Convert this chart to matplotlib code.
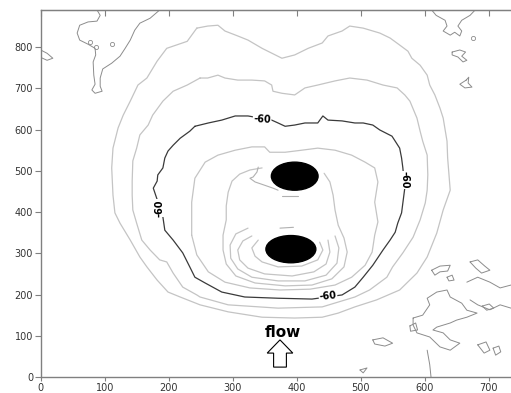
import matplotlib
matplotlib.use("Agg")
import matplotlib.pyplot as plt
from matplotlib.patches import Ellipse, FancyArrow

plt.rcParams['font.family'] = ['DejaVu Sans']

# ---------------- data (data units) ----------------
x_ticks = [0, 100, 200, 300, 400, 500, 600, 700]
y_ticks = [0, 100, 200, 300, 400, 500, 600, 700, 800]

# outermost contour
contour_a_x = [244, 229, 197, 182, 166, 152, 140, 129, 121, 113, 111, 113, 116, 124, 140, 155, 166, 182, 199, 218,
               249, 293, 346, 397, 440, 465, 491, 525, 561, 588, 604, 619, 629, 640, 636, 635, 629, 624, 616, 608,
               604, 593, 580, 574, 561, 546, 530, 504, 483, 471, 449, 440, 418, 397, 377, 346, 324, 308, 288, 277, 261]
contour_a_y = [846, 814, 797, 766, 725, 708, 669, 635, 604, 555, 507, 441, 398, 373, 332, 291, 267, 235, 206, 194,
               175, 158, 145, 143, 145, 155, 170, 187, 211, 252, 291, 349, 405, 453, 531, 572, 628, 652, 684, 708,
               732, 756, 773, 790, 805, 822, 834, 846, 851, 839, 827, 810, 797, 781, 773, 797, 817, 827, 839, 853, 851]
# second contour
contour_b_x = [249, 229, 207, 191, 183, 175, 168, 155, 150, 144, 143, 143, 144, 150, 158, 171, 186, 197, 207, 222,
               244, 249, 293, 371, 440, 491, 514, 541, 550, 566, 582, 593, 601, 604, 605, 604, 597, 593, 588, 577,
               569, 557, 535, 510, 483, 460, 433, 413, 397, 377, 363, 361, 350, 330, 308, 288, 277, 261]
contour_b_y = [725, 708, 693, 669, 652, 635, 611, 587, 555, 524, 475, 441, 405, 373, 332, 308, 284, 279, 252, 218,
               199, 194, 175, 167, 170, 194, 211, 242, 267, 301, 339, 381, 422, 453, 490, 538, 572, 596, 628, 669,
               684, 701, 708, 720, 725, 718, 708, 701, 684, 688, 693, 708, 718, 720, 720, 725, 732, 725]
# labelled -60 contour
contour_60_x = [241, 262, 283, 304, 324, 361, 371, 382, 397, 413, 433, 441, 449, 471, 491, 504, 519, 530, 549, 554,
                561, 564, 566, 569, 566, 564, 558, 554, 546, 535, 519, 504, 491, 471, 424, 371, 319, 283, 257, 241,
                233, 222, 207, 194, 191, 186, 176, 182, 183, 191, 194, 199, 207, 218, 233]
contour_60_y = [608, 616, 623, 633, 633, 623, 616, 608, 611, 616, 616, 633, 623, 621, 616, 616, 611, 599, 584, 572,
                555, 531, 507, 458, 422, 398, 373, 351, 332, 308, 271, 242, 218, 199, 189, 191, 194, 206, 228, 242,
                267, 301, 332, 356, 388, 412, 458, 475, 490, 507, 531, 548, 562, 579, 596]
# contour just inside -60
contour_d_x = [236, 236, 241, 257, 277, 304, 330, 350, 358, 382, 408, 433, 460, 486, 507, 522, 527, 522, 527, 522,
               518, 507, 486, 460, 421, 374, 327, 288, 262, 244]
contour_d_y = [344, 424, 482, 521, 538, 550, 558, 558, 545, 545, 550, 555, 550, 538, 521, 507, 473, 424, 376, 344,
               303, 271, 242, 223, 213, 211, 216, 230, 255, 296]
# U-shaped contour around both cylinders
contour_e_x = [346, 327, 311, 299, 293, 290, 290, 285, 285, 290, 305, 335, 382, 424, 455, 474, 479, 474, 465, 460, 457, 452, 443]
contour_e_y = [507, 502, 492, 475, 448, 415, 381, 344, 308, 274, 245, 228, 221, 223, 238, 267, 303, 337, 368, 405, 441, 473, 494]
# rings around the lower cylinder
ring3_x = [324, 305, 296, 297, 308, 330, 371, 413, 446, 463, 466, 460]
ring3_y = [361, 347, 320, 288, 262, 242, 233, 233, 247, 276, 313, 342]
ring2_x = [330, 316, 308, 311, 324, 350, 393, 427, 446, 452, 449]
ring2_y = [342, 330, 308, 284, 264, 250, 245, 255, 274, 303, 332]
ring1_x = [340, 330, 335, 346, 371, 408, 433, 441, 436]
ring1_y = [332, 313, 293, 279, 267, 269, 284, 308, 327]
# fragments near the upper cylinder
frag1_x = [340, 338, 332, 327, 335, 350, 363, 371]
frag1_y = [509, 497, 485, 482, 473, 465, 458, 453]
frag2_x = [377, 402]
frag2_y = [439, 439]
frag3_x = [374, 395]
frag3_y = [361, 363]

# noisy contours at the edges
noise_tl_x = [186, 171, 155, 147, 140, 132, 124, 111, 97, 93, 93, 96, 85, 80, 85, 83, 82, 86, 85, 74, 61, 57, 61, 74, 88, 93, 88]
noise_tl_y = [890, 870, 858, 841, 817, 797, 778, 761, 747, 725, 705, 693, 688, 696, 710, 732, 764, 781, 797, 807, 817, 834, 853, 861, 863, 877, 890]
noise_left_x = [0, 10, 19, 10, 0]
noise_left_y = [793, 785, 773, 768, 775]
dots_x = [77, 86, 112]
dots_y = [813, 800, 808]
noise_tr1_x = [611, 618, 632, 635, 629, 640, 647, 655, 658, 652, 658, 671, 679]
noise_tr1_y = [890, 877, 865, 851, 839, 829, 836, 827, 839, 851, 865, 877, 890]
noise_tr2_x = [643, 655, 664, 658, 666, 660, 652, 643]
noise_tr2_y = [788, 793, 788, 778, 768, 764, 776, 781]
noise_tr3_x = [665, 669, 668, 674, 663, 655]
noise_tr3_y = [720, 727, 713, 703, 701, 710]
tr_dot_x = [676]
tr_dot_y = [823]

noise_br_a_x = [582, 597, 608, 604, 619, 635, 640, 658, 666, 682, 666, 650, 640, 619, 613, 629, 640, 655, 640, 624, 608, 588, 582]
noise_br_a_y = [143, 150, 175, 191, 206, 211, 194, 179, 162, 155, 145, 138, 131, 121, 114, 107, 90, 82, 65, 73, 97, 107, 126]
noise_br_b_x = [611, 624, 640, 636, 624, 616]
noise_br_b_y = [259, 269, 271, 257, 255, 247]
noise_br_c_x = [671, 683, 694, 702, 689, 680]
noise_br_c_y = [279, 284, 269, 259, 252, 264]
noise_br_d_x = [666, 683, 702, 718, 735]
noise_br_d_y = [230, 242, 230, 216, 223]
noise_br_e_x = [671, 683, 702, 718, 735]
noise_br_e_y = [187, 175, 163, 175, 167]
noise_br_f_x = [519, 535, 550, 538, 522]
noise_br_f_y = [90, 95, 82, 75, 80]
noise_br_g_x = [683, 696, 702, 693]
noise_br_g_y = [78, 85, 65, 58]
noise_br_h_x = [635, 643, 646, 638]
noise_br_h_y = [242, 247, 235, 233]
noise_br_i_x = [499, 510, 504]
noise_br_i_y = [17, 22, 10]
noise_br_k_x = [577, 586, 589, 578]
noise_br_k_y = [124, 131, 114, 111]
noise_br_m_x = [707, 716, 719, 711]
noise_br_m_y = [70, 75, 61, 53]
noise_br_n_x = [690, 701, 708, 697]
noise_br_n_y = [172, 177, 167, 162]
noise_br_o_x = [604, 608, 610]
noise_br_o_y = [65, 30, 0]

# cylinders (centre x, centre y, width, height in data units)
cyl_x = [397, 391]
cyl_y = [487, 310]
cyl_w = [73, 78]
cyl_h = [68, 66]

# contour labels
label_x = [346, 568, 449, 186]
label_y = [624, 478, 196, 410]
label_rot = [-3, -90, 6, 90]
label_text = ['-60', '-60', '-60', '-60']

# flow annotation
flow_x = 379
flow_y = 107
arrow_x = 374
arrow_base = 24
arrow_tip = 90

# ---------------- figure ----------------
fig = plt.figure(figsize=(5.11, 3.93), dpi=100)
ax = fig.add_axes([0.0796, 0.0407, 0.9204, 0.9339])
ax.set_xlim(0, 735)
ax.set_ylim(0, 890)

LIGHT = '#c4c4c4'
MID = '#b0b0b0'
NOISE = '#8c8c8c'


def draw(xs, ys, closed=False, color=LIGHT, lw=0.8):
    x = list(xs)
    y = list(ys)
    if closed:
        x.append(x[0])
        y.append(y[0])
    ax.plot(x, y, color=color, lw=lw, solid_joinstyle='round', solid_capstyle='round')


draw(contour_a_x, contour_a_y, True, LIGHT, 0.9)
draw(contour_b_x, contour_b_y, True, LIGHT, 0.9)
draw(contour_60_x, contour_60_y, True, '#3a3a3a', 0.9)
draw(contour_d_x, contour_d_y, True, LIGHT, 0.9)
draw(contour_e_x, contour_e_y, False, LIGHT, 0.9)
for rx, ry in [(ring3_x, ring3_y), (ring2_x, ring2_y), (ring1_x, ring1_y)]:
    draw(rx, ry, False, LIGHT, 0.9)
for fx, fy in [(frag1_x, frag1_y), (frag2_x, frag2_y), (frag3_x, frag3_y)]:
    draw(fx, fy, False, MID, 0.8)

draw(noise_tl_x, noise_tl_y, False, NOISE, 0.7)
draw(noise_left_x, noise_left_y, False, NOISE, 0.7)
draw(noise_tr1_x, noise_tr1_y, False, NOISE, 0.7)
draw(noise_tr2_x, noise_tr2_y, True, NOISE, 0.7)
draw(noise_tr3_x, noise_tr3_y, True, NOISE, 0.7)
ax.plot(dots_x, dots_y, 'o', ms=3, mfc='none', mec=NOISE, mew=0.6)
ax.plot(tr_dot_x, tr_dot_y, 'o', ms=3, mfc='none', mec=NOISE, mew=0.6)
for nx, ny, cl in [(noise_br_a_x, noise_br_a_y, True), (noise_br_b_x, noise_br_b_y, True),
                   (noise_br_c_x, noise_br_c_y, True), (noise_br_d_x, noise_br_d_y, False),
                   (noise_br_e_x, noise_br_e_y, False), (noise_br_f_x, noise_br_f_y, True),
                   (noise_br_g_x, noise_br_g_y, True), (noise_br_h_x, noise_br_h_y, True),
                   (noise_br_i_x, noise_br_i_y, True), (noise_br_k_x, noise_br_k_y, True),
                   (noise_br_m_x, noise_br_m_y, True), (noise_br_n_x, noise_br_n_y, True),
                   (noise_br_o_x, noise_br_o_y, False)]:
    draw(nx, ny, cl, NOISE, 0.7)

for cx, cy, w, h in zip(cyl_x, cyl_y, cyl_w, cyl_h):
    ax.add_patch(Ellipse((cx, cy), w, h, facecolor='black', edgecolor='black', zorder=5))

for lx, ly, r, t in zip(label_x, label_y, label_rot, label_text):
    ax.text(lx, ly, t, rotation=r, ha='center', va='center', fontsize=7, fontweight='bold',
            color='black', rotation_mode='anchor',
            bbox=dict(facecolor='white', edgecolor='none', pad=0.4), zorder=6)

ax.text(flow_x, flow_y, 'flow', ha='center', va='center', fontsize=11, fontweight='bold', color='black')
ax.add_patch(FancyArrow(arrow_x, arrow_base, 0, arrow_tip - arrow_base, width=20, head_width=40,
                        head_length=32, length_includes_head=True, facecolor='white',
                        edgecolor='black', lw=0.8, zorder=6))

# axes styling
for s in ['left', 'bottom', 'top']:
    ax.spines[s].set_color('#808080')
    ax.spines[s].set_linewidth(1.0)
ax.spines['right'].set_visible(False)
ax.set_xticks(x_ticks)
ax.set_yticks(y_ticks)
ax.tick_params(axis='x', direction='out', length=3, pad=1.5, colors='#333333', labelsize=7, color='#808080')
ax.tick_params(axis='y', direction='out', length=4, pad=1.5, colors='#333333', labelsize=7, color='#808080')
sec = ax.secondary_xaxis('top')
sec.set_xticks(x_ticks)
sec.tick_params(direction='in', length=4, labeltop=False, color='#808080')
sec.spines['top'].set_color('#808080')

fig.savefig('out.png', dpi=100)
